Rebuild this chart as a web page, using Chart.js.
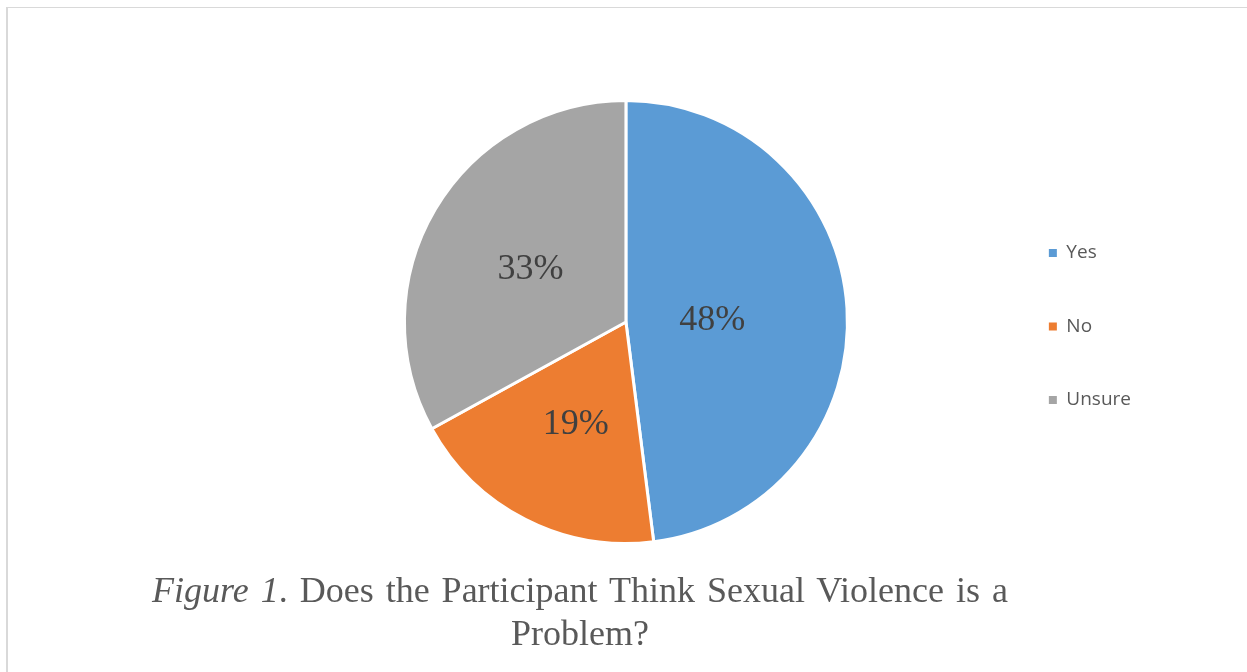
<!DOCTYPE html>
<html>
<head>
<meta charset="utf-8">
<script src="https://cdn.jsdelivr.net/npm/chart.js@4.4.0/dist/chart.umd.min.js"></script>
<style>
  html, body { margin: 0; padding: 0; background: #fff; }
  body { width: 1247px; height: 672px; position: relative; overflow: hidden; }
  #frame { position: absolute; left: 6px; top: 7px; width: 1300px; height: 700px;
           border-left: 2px solid #d9d9d9; border-top: 1px solid #d9d9d9; }
  #wrap { position: absolute; left: 0; top: 0; width: 1247px; height: 600px; }
  #caption { position: absolute; left: 152px; top: 569px; width: 856px;
             text-align: center;
             font-family: "Liberation Serif", "Times New Roman", serif; font-size: 36px;
             line-height: 43px; color: #595959; }
  #caption span { display: block; }
  #caption .first { text-align: justify; text-align-last: justify; }
</style>
</head>
<body>
<div id="frame"></div>
<div id="wrap"><canvas id="pie" width="1247" height="600"></canvas></div>
<div id="caption"><span class="first"><i>Figure 1</i>. Does the Participant Think Sexual Violence is a</span><span>Problem?</span></div>
<script>
const categories = ['Yes', 'No', 'Unsure'];
const shares = [48, 19, 33];
const sliceColors = ['#5B9BD5', '#ED7D31', '#A5A5A5'];

// percent labels inside the slices, at a fraction of the radius
const sliceLabels = {
    id: 'sliceLabels',
    afterDatasetsDraw(chart) {
        const { ctx } = chart;
        const arcs = chart.getDatasetMeta(0).data;
        const reach = [0.39, 0.5, 0.5];
        ctx.save();
        ctx.font = '36px "Liberation Serif", "Times New Roman", serif';
        ctx.fillStyle = '#404040';
        ctx.textAlign = 'center';
        ctx.textBaseline = 'middle';
        arcs.forEach((arc, i) => {
            const mid = (arc.startAngle + arc.endAngle) / 2;
            const r = arc.outerRadius * reach[i];
            ctx.fillText(shares[i] + '%', arc.x + Math.cos(mid) * r, arc.y + Math.sin(mid) * r + 4);
        });
        ctx.restore();
    }
};

new Chart(document.getElementById('pie'), {
    type: 'pie',
    data: {
        labels: categories,
        datasets: [{
            data: shares,
            backgroundColor: sliceColors,
            borderColor: '#ffffff',
            borderWidth: 3,
        }]
    },
    options: {
        responsive: false,
        animation: false,
        devicePixelRatio: 1,
        layout: { padding: { top: 99, bottom: 55, left: 257.5, right: 106 } },
        plugins: {
            tooltip: { enabled: false },
            legend: {
                position: 'right',
                align: 'center',
                title: { display: true, text: '', font: { size: 1, lineHeight: 1 }, padding: { top: 8, bottom: 0 } },
                labels: {
                    boxWidth: 8, boxHeight: 8, padding: 54.5,
                    color: '#595959',
                    font: { family: '"Open Sans", sans-serif', size: 19 },
                    generateLabels: (chart) => Chart.controllers.pie.overrides.plugins.legend.labels
                        .generateLabels(chart).map(item => ({ ...item, lineWidth: 0 }))
                }
            }
        }
    },
    plugins: [sliceLabels]
});
</script>
</body>
</html>
